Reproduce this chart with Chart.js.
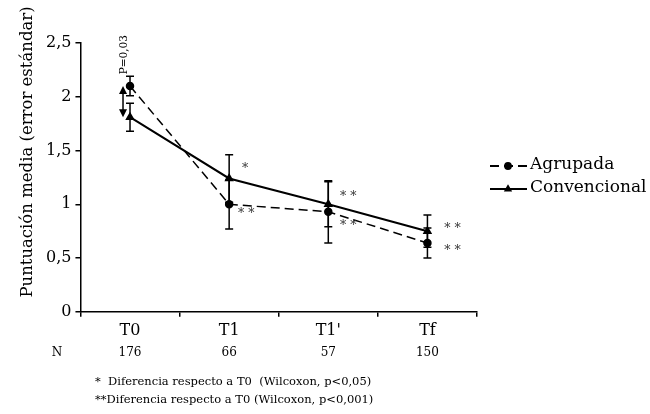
<!DOCTYPE html>
<html>
<head>
<meta charset="utf-8">
<script src="https://cdn.jsdelivr.net/npm/chart.js@4.4.0/dist/chart.umd.min.js"></script>
<style>
  html, body { margin: 0; padding: 0; background: #fff; }
  #wrap { width: 650px; height: 414px; }
</style>
</head>
<body>
<div id="wrap"><canvas id="chart"></canvas></div>
<script>
const FONT = "'DejaVu Serif', serif";

const periods = ["T0", "T1", "T1'", "Tf"];
const sampleSizes = [176, 66, 57, 150];
const agrupada = [2.10, 1.00, 0.93, 0.64];
const agrupadaErr = [0.09, 0.23, 0.29, 0.14];
const convencional = [1.81, 1.24, 1.00, 0.75];
const convencionalErr = [0.13, 0.22, 0.21, 0.15];
const yTicks = [0, 0.5, 1, 1.5, 2, 2.5];
const yTitle = "Puntuación media (error estándar)";

// significance marks: category index, value where the mark sits, text
const starIndex = [1, 1, 2, 2, 3, 3];
const starValue = [1.36, 0.94, 1.10, 0.83, 0.80, 0.60];
const starText = ["*", "* *", "* *", "* *", "* *", "* *"];

const footnotes = [
    "*  Diferencia respecto a T0  (Wilcoxon, p<0,05)",
    "**Diferencia respecto a T0 (Wilcoxon, p<0,001)"
];

const errorBars = {
    id: "errorBars",
    afterDatasetsDraw(chart) {
        const { ctx, scales: { x, y } } = chart;
        ctx.save();
        ctx.strokeStyle = "#000";
        ctx.lineWidth = 1.5;
        chart.data.datasets.forEach(ds => {
            ds.errors.forEach((e, i) => {
                const px = x.getPixelForValue(i);
                const top = y.getPixelForValue(ds.data[i] + e);
                const bot = y.getPixelForValue(ds.data[i] - e);
                ctx.beginPath();
                ctx.moveTo(px, top); ctx.lineTo(px, bot);
                ctx.moveTo(px - 4, top); ctx.lineTo(px + 4, top);
                ctx.moveTo(px - 4, bot); ctx.lineTo(px + 4, bot);
                ctx.stroke();
            });
        });
        ctx.restore();
    }
};

const extras = {
    id: "extras",
    afterDraw(chart) {
        const { ctx, chartArea, scales: { x, y } } = chart;
        ctx.save();
        ctx.fillStyle = "#000";
        ctx.strokeStyle = "#000";

        // y axis title, sits a bit above the axis middle as in the original
        ctx.save();
        ctx.translate(28, 152);
        ctx.rotate(-Math.PI / 2);
        ctx.font = "16.5px " + FONT;
        ctx.textAlign = "center";
        ctx.textBaseline = "middle";
        ctx.fillText(yTitle, 0, 0);
        ctx.restore();

        // P=0,03 arrow between groups at T0
        const ax = x.getPixelForValue(0) - 7;
        const ya = y.getPixelForValue(agrupada[0]);
        const yc = y.getPixelForValue(convencional[0]);
        ctx.lineWidth = 1.5;
        ctx.beginPath();
        ctx.moveTo(ax, ya + 6); ctx.lineTo(ax, yc - 6);
        ctx.stroke();
        ctx.beginPath();
        ctx.moveTo(ax, ya); ctx.lineTo(ax - 4, ya + 8); ctx.lineTo(ax + 4, ya + 8); ctx.closePath();
        ctx.moveTo(ax, yc); ctx.lineTo(ax - 4, yc - 8); ctx.lineTo(ax + 4, yc - 8); ctx.closePath();
        ctx.fill();
        const capTop = y.getPixelForValue(agrupada[0] + agrupadaErr[0]);
        ctx.save();
        ctx.translate(x.getPixelForValue(0) - 6, capTop - 2);
        ctx.rotate(-Math.PI / 2);
        ctx.font = "10.5px " + FONT;
        ctx.textAlign = "left";
        ctx.textBaseline = "middle";
        ctx.fillText("P=0,03", 0, 0);
        ctx.restore();

        // significance stars
        const shift = [16, 17, 20, 20, 25, 25];
        ctx.fillStyle = "#333";
        ctx.font = "12.5px " + FONT;
        ctx.textAlign = "center";
        ctx.textBaseline = "middle";
        starText.forEach((t, k) => {
            ctx.fillText(t, x.getPixelForValue(starIndex[k]) + shift[k], y.getPixelForValue(starValue[k]) + 3);
        });

        // N row
        ctx.fillStyle = "#000";
        ctx.font = "12px " + FONT;
        const nY = chartArea.bottom + 41;
        ctx.fillText("N", 57, nY);
        sampleSizes.forEach((n, i) => ctx.fillText(String(n), x.getPixelForValue(i), nY));

        // footnotes
        ctx.font = "11.5px " + FONT;
        ctx.textAlign = "left";
        footnotes.forEach((f, k) => ctx.fillText(f, 95, chartArea.bottom + 70 + k * 18));

        // legend
        const lx = chartArea.right + 13;
        const rows = [
            { label: "Agrupada", y: chartArea.top + 123, dash: [9, 5], point: "circle" },
            { label: "Convencional", y: chartArea.top + 146, dash: [], point: "triangle" }
        ];
        rows.forEach(r => {
            ctx.lineWidth = 1.8;
            ctx.setLineDash(r.dash);
            ctx.beginPath();
            ctx.moveTo(lx, r.y); ctx.lineTo(lx + 37, r.y);
            ctx.stroke();
            ctx.setLineDash([]);
            Chart.helpers.drawPoint(ctx, { pointStyle: r.point, radius: 3, borderWidth: 1 }, lx + 18, r.y);
            ctx.fill();
            ctx.font = "17px " + FONT;
            ctx.textAlign = "left";
            ctx.textBaseline = "middle";
            ctx.fillText(r.label, lx + 40, r.y - 1);
        });
        ctx.restore();
    }
};

new Chart(document.getElementById("chart"), {
    type: "line",
    data: {
        labels: periods,
        datasets: [
            {
                label: "Agrupada",
                data: agrupada,
                errors: agrupadaErr,
                borderColor: "#000",
                backgroundColor: "#000",
                borderWidth: 1.5,
                borderDash: [9, 5],
                pointStyle: "circle",
                pointRadius: 3.5,
                tension: 0
            },
            {
                label: "Convencional",
                data: convencional,
                errors: convencionalErr,
                borderColor: "#000",
                backgroundColor: "#000",
                borderWidth: 2,
                pointStyle: "triangle",
                pointRadius: 3.5,
                tension: 0
            }
        ]
    },
    options: {
        responsive: true,
        maintainAspectRatio: false,
        animation: false,
        layout: { padding: { left: 42, right: 173, top: 43, bottom: 70 } },
        plugins: {
            legend: { display: false },
            tooltip: { enabled: false }
        },
        scales: {
            x: {
                offset: true,
                border: { display: true, color: "#000", width: 1.5 },
                grid: { offset: true, drawOnChartArea: false, drawTicks: true, tickLength: 5, color: "#000", lineWidth: 1.5 },
                ticks: { color: "#000", font: { family: FONT, size: 16 }, padding: 4 }
            },
            y: {
                min: 0,
                max: 2.5,
                afterBuildTicks: axis => { axis.ticks = yTicks.map(v => ({ value: v })); },
                border: { display: true, color: "#000", width: 1.5 },
                grid: { drawOnChartArea: false, drawTicks: true, tickLength: 5, color: "#000", lineWidth: 1.5 },
                ticks: {
                    color: "#000",
                    font: { family: FONT, size: 16 },
                    padding: 4,
                    callback: v => String(v).replace(".", ",")
                }
            }
        }
    },
    plugins: [errorBars, extras]
});
</script>
</body>
</html>
